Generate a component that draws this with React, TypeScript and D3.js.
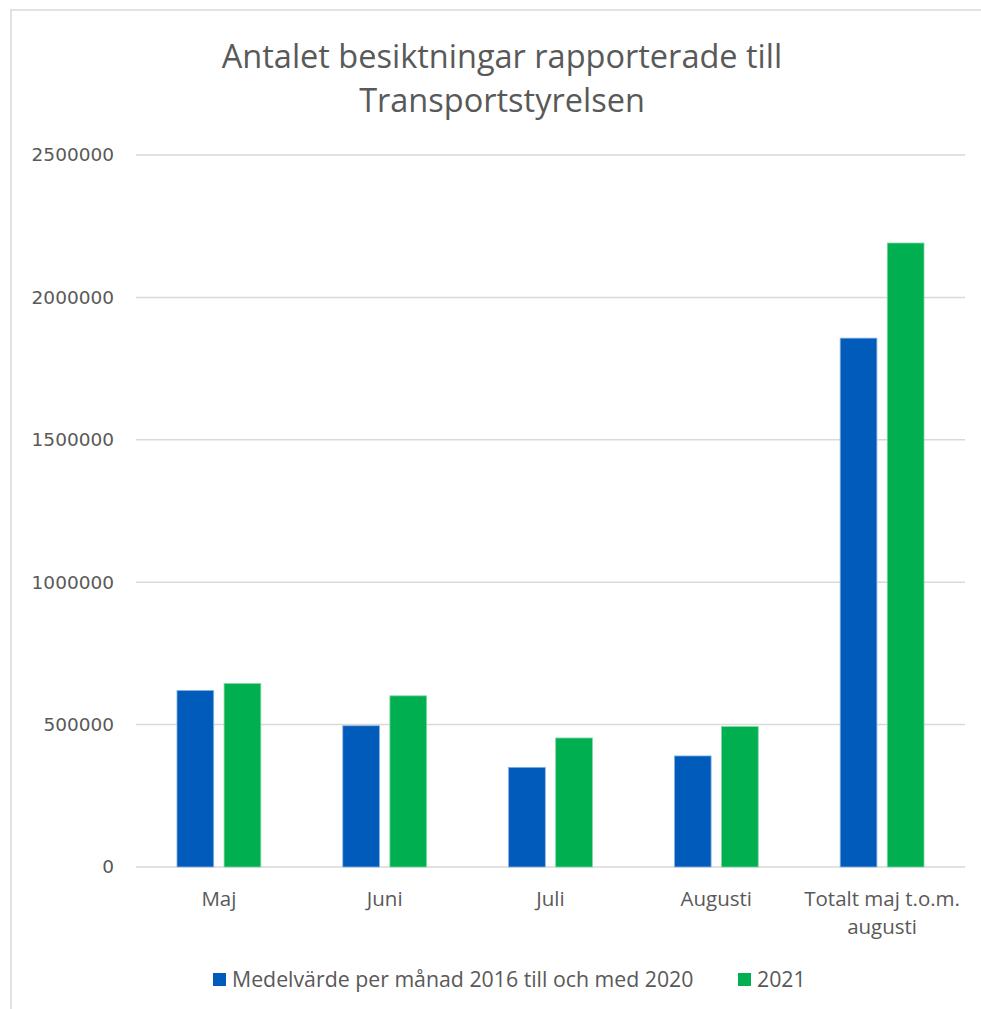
import React, { useEffect, useRef } from "react";
import * as d3 from "d3";

const categories = ["Maj", "Juni", "Juli", "Augusti", "Totalt maj t.o.m. augusti"];
const seriesNames = ["Medelvärde per månad 2016 till och med 2020", "2021"];
const avg2016to2020 = [620000, 496000, 350000, 390000, 1857000];
const values2021 = [644000, 601000, 453000, 493000, 2191000];
const yTicks = [0, 500000, 1000000, 1500000, 2000000, 2500000];
const colors = ["#005BBB", "#00B050"];

const W = 981;
const H = 1009;
const left = 136;
const right = 965;
const top = 155;
const bottom = 867;

const App = () => {
  const ref = useRef<SVGSVGElement>(null);

  useEffect(() => {
    const svg = d3.select(ref.current);
    svg.selectAll("*").remove();

    // chart border
    svg.append("rect")
      .attr("x", 11).attr("y", 10)
      .attr("width", W).attr("height", H)
      .attr("fill", "#fff").attr("stroke", "#d9d9d9").attr("stroke-width", 1.5);

    // title
    const title = svg.append("text")
      .attr("text-anchor", "middle")
      .attr("font-family", "Open Sans, sans-serif")
      .attr("font-size", 32.5)
      .attr("fill", "#595959");
    title.append("tspan").attr("x", 502).attr("y", 68).text("Antalet besiktningar rapporterade till");
    title.append("tspan").attr("x", 502).attr("y", 112).text("Transportstyrelsen");

    const x0 = d3.scaleBand().domain(categories).range([left, right]);
    const x1 = d3.scaleBand().domain(seriesNames).range([0, x0.bandwidth()])
      .paddingInner(0.22).paddingOuter(0.87);
    const y = d3.scaleLinear().domain([0, 2500000]).range([bottom, top]);

    // gridlines
    svg.append("g").selectAll("line").data(yTicks).join("line")
      .attr("x1", left).attr("x2", right)
      .attr("y1", (d) => y(d)).attr("y2", (d) => y(d))
      .attr("stroke", "#d9d9d9").attr("stroke-width", 1.5);

    // y axis labels
    const yAxis = d3.axisLeft(y).tickValues(yTicks).tickSize(0).tickPadding(22)
      .tickFormat((d) => String(d));
    const ya = svg.append("g").attr("transform", `translate(${left},0)`).call(yAxis);
    ya.select(".domain").remove();
    ya.selectAll("text")
      .attr("font-family", "DejaVu Sans, sans-serif")
      .attr("font-size", 18.5)
      .attr("fill", "#595959");

    // bars
    const series = [avg2016to2020, values2021];
    const rows = categories.map((c, i) => ({ c, vals: series.map((s, j) => ({ name: seriesNames[j], v: s[i], j })) }));
    svg.append("g").selectAll("g").data(rows).join("g")
      .attr("transform", (d) => `translate(${x0(d.c)},0)`)
      .selectAll("rect").data((d) => d.vals).join("rect")
      .attr("x", (d) => x1(d.name)!)
      .attr("width", x1.bandwidth())
      .attr("y", (d) => y(d.v))
      .attr("height", (d) => bottom - y(d.v))
      .attr("fill", (d) => colors[d.j])
      .attr("stroke", (d) => (d.j === 0 ? "#8fb4e3" : "#7fd6a5"))
      .attr("stroke-width", 0.8);

    // x labels
    const xl = svg.append("g").selectAll("text").data(categories).join("text")
      .attr("text-anchor", "middle")
      .attr("font-family", "Open Sans, sans-serif")
      .attr("font-size", 20.5)
      .attr("fill", "#595959");
    xl.each(function (d) {
      const t = d3.select(this);
      const cx = x0(d)! + x0.bandwidth() / 2;
      const lines = d.startsWith("Totalt") ? ["Totalt maj t.o.m.", "augusti"] : [d];
      lines.forEach((ln, k) => {
        t.append("tspan").attr("x", cx).attr("y", 906 + k * 28).text(ln);
      });
    });

    // legend
    const legendX = [213, 738];
    const lg = svg.append("g").selectAll("g").data(seriesNames).join("g")
      .attr("transform", (d, i) => `translate(${legendX[i]},973)`);
    lg.append("rect").attr("x", 0).attr("y", 0).attr("width", 13).attr("height", 13)
      .attr("fill", (d, i) => colors[i]);
    lg.append("text").attr("x", 19).attr("y", 14)
      .attr("font-family", "Open Sans, sans-serif")
      .attr("font-size", 21.3)
      .attr("fill", "#595959")
      .text((d) => d);
  }, []);

  return (
    <svg ref={ref} width={W} height={H}
      style={{ position: "absolute", left: 0, top: 0, background: "#fff" }} />
  );
};

export default App;
